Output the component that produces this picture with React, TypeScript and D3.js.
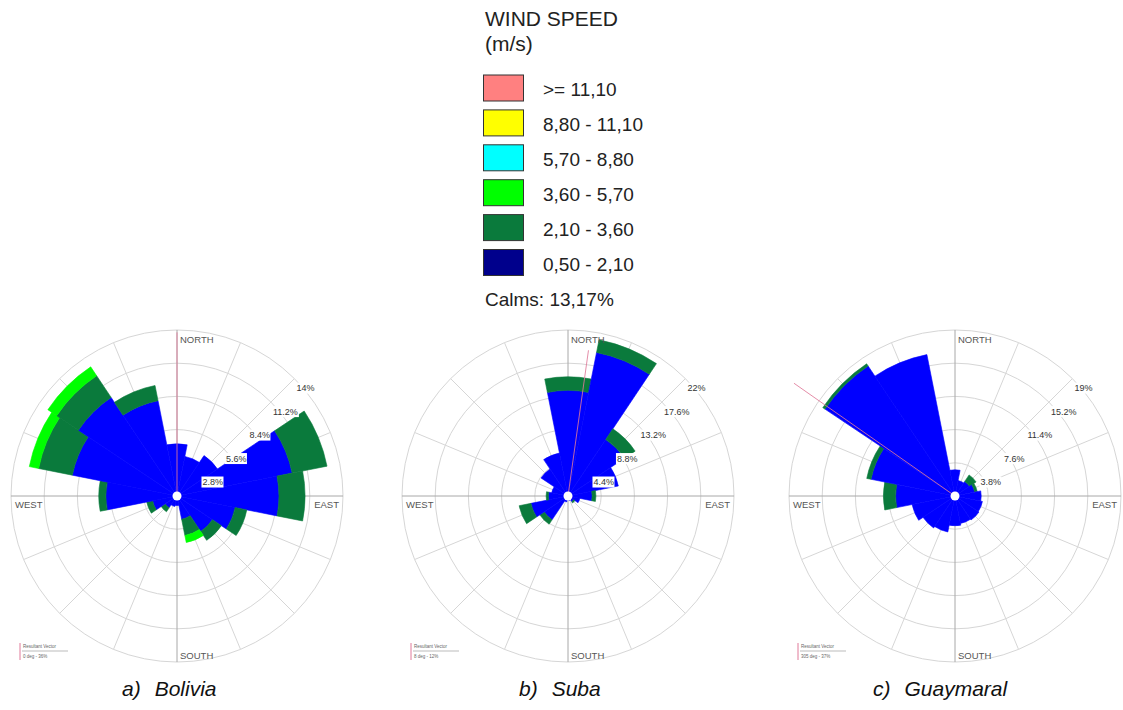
import React from "react";
import * as d3 from "d3";

// Sixteen compass sectors, clockwise from north
const DIRECTIONS = ["N", "NNE", "NE", "ENE", "E", "ESE", "SE", "SSE", "S", "SSW", "SW", "WSW", "W", "WNW", "NW", "NNW"];

// Wind speed classes (m/s) as listed in the legend, top to bottom
const SPEED_CLASSES = [">= 11,10", "8,80 - 11,10", "5,70 - 8,80", "3,60 - 5,70", "2,10 - 3,60", "0,50 - 2,10"];
const LEGEND_COLORS = ["#ff8080", "#ffff00", "#00ffff", "#00ff00", "#0a7a3c", "#00008c"];
// Bar colours, innermost (slowest) class first
const BAR_COLORS = ["#0000ff", "#0a7a3c", "#00ff00"];
const CALMS = "Calms: 13,17%";

// Frequencies (%) per direction for 0.50-2.10, 2.10-3.60 and 3.60-5.70 m/s
const boliviaLow = [4.4, 3.4, 4.1, 9.9, 8.6, 5.0, 3.6, 2.0, 0.8, 0.9, 1.2, 2.1, 6.0, 9.0, 10.0, 8.2];
const boliviaMid = [0, 0, 0, 3.0, 2.2, 1.0, 0.9, 1.4, 0, 0, 0.4, 0.5, 0.6, 2.9, 2.2, 1.3];
const boliviaHigh = [0, 0, 0, 0, 0, 0, 0, 0.6, 0, 0, 0, 0, 0, 0.8, 0.9, 0];
const boliviaTicks = [2.8, 5.6, 8.4, 11.2, 14];

const subaLow = [14.0, 19.4, 9.0, 6.8, 3.2, 1.6, 0.9, 0.6, 0.5, 0.8, 3.8, 5.0, 2.6, 2.2, 4.3, 5.8];
const subaMid = [1.8, 1.7, 1.7, 0, 0.5, 0, 0.2, 0, 0, 0, 0.7, 1.6, 0.3, 0, 0, 0];
const subaHigh = [0, 0, 0, 0, 0, 0, 0, 0, 0, 0, 0, 0, 0, 0, 0, 0];
const subaTicks = [4.4, 8.8, 13.2, 17.6, 22];

const guaymaralLow = [3.0, 1.8, 2.0, 2.3, 3.0, 3.2, 3.3, 3.2, 3.4, 4.2, 4.4, 5.0, 6.8, 9.8, 17.9, 16.5];
const guaymaralMid = [0, 0, 0.9, 0.3, 0, 0, 0, 0, 0, 0, 0, 0, 1.4, 0.5, 0.3, 0];
const guaymaralHigh = [0, 0, 0, 0, 0, 0, 0, 0, 0, 0, 0, 0, 0, 0, 0, 0];
const guaymaralTicks = [3.8, 7.6, 11.4, 15.2, 19];

// Resultant vector: direction (deg) and line length in % of the rose scale
const resultantBearings = [0, 8, 305];
const resultantLengths = [13.8, 19.5, 22.5];
const resultantTexts = ["0 deg - 36%", "8 deg - 12%", "305 deg - 37%"];

const CAPTION_LETTERS = ["a)", "b)", "c)"];
const CAPTION_NAMES = ["Bolivia", "Suba", "Guaymaral"];

const FONT = "'Liberation Sans', Arial, sans-serif";
const toRad = (deg: number) => (deg * Math.PI) / 180;

type RoseProps = {
  cx: number;
  cy: number;
  R: number;
  series: number[][];
  ticks: number[];
  bearing: number;
  length: number;
  vectorText: string;
  letter: string;
  name: string;
  captionX: number;
};

function Rose({ cx, cy, R, series, ticks, bearing, length, vectorText, letter, name, captionX }: RoseProps) {
  const maxTick = ticks[ticks.length - 1];
  const r = d3.scaleLinear().domain([0, maxTick]).range([0, R]);
  const arc = d3.arc<any>();
  const half = 360 / DIRECTIONS.length / 2;

  const wedges: { d: string; fill: string; key: string }[] = [];
  DIRECTIONS.forEach((dir, i) => {
    const b = i * (360 / DIRECTIONS.length);
    let acc = 0;
    series.forEach((vals, k) => {
      const v = vals[i];
      if (v <= 0) return;
      const d = arc({
        innerRadius: r(acc),
        outerRadius: r(acc + v),
        startAngle: toRad(b - half),
        endAngle: toRad(b + half),
      }) as string;
      wedges.push({ d, fill: BAR_COLORS[k], key: `${dir}-${k}` });
      acc += v;
    });
  });

  const spokes = DIRECTIONS.map((_, i) => i * (360 / DIRECTIONS.length)).filter((b) => b % 90 !== 0);
  const rv = r(length);

  return (
    <g>
      {/* grid */}
      {ticks.map((t) => (
        <circle key={t} cx={cx} cy={cy} r={r(t)} fill="none" stroke="#d6d6d6" strokeWidth={1} />
      ))}
      {spokes.map((b) => (
        <line
          key={b}
          x1={cx}
          y1={cy}
          x2={cx + R * Math.sin(toRad(b))}
          y2={cy - R * Math.cos(toRad(b))}
          stroke="#d6d6d6"
          strokeWidth={1}
        />
      ))}
      <line x1={cx - R} y1={cy} x2={cx + R} y2={cy} stroke="#a8a8a8" strokeWidth={1} />
      <line x1={cx} y1={cy - R} x2={cx} y2={cy + R} stroke="#a8a8a8" strokeWidth={1} />

      {/* stacked frequency bars */}
      {wedges.map((w) => (
        <path
          key={w.key}
          d={w.d}
          transform={`translate(${cx},${cy})`}
          fill={w.fill}
          stroke={w.fill}
          strokeWidth={0.6}
          strokeLinejoin="miter"
        />
      ))}

      {/* resultant vector */}
      <line
        x1={cx}
        y1={cy}
        x2={cx + rv * Math.sin(toRad(bearing))}
        y2={cy - rv * Math.cos(toRad(bearing))}
        stroke="#e07a9a"
        strokeWidth={1}
        opacity={0.85}
      />
      <circle cx={cx} cy={cy} r={4.5} fill="#fff" />

      {/* ring labels */}
      {ticks.map((t) => {
        const rr = r(t);
        const px = cx + rr * Math.SQRT1_2;
        const py = cy - rr * Math.SQRT1_2;
        const label = `${t}%`;
        const w = label.length * 5 + 2;
        return (
          <g key={`l${t}`}>
            <rect x={px + 1} y={py + 4} width={w} height={11} fill="#fff" />
            <text x={px + 2} y={py + 12.5} fontSize={9} fill="#333" fontFamily={FONT}>
              {label}
            </text>
          </g>
        );
      })}

      {/* compass labels */}
      <text x={cx + 3} y={cy - R + 13} fontSize={9.5} fill="#555" fontFamily={FONT}>NORTH</text>
      <text x={cx + 3} y={cy + R - 3} fontSize={9.5} fill="#555" fontFamily={FONT}>SOUTH</text>
      <text x={cx - R + 4} y={cy + 12} fontSize={9.5} fill="#555" fontFamily={FONT}>WEST</text>
      <text x={cx + R - 4} y={cy + 12} fontSize={9.5} fill="#555" fontFamily={FONT} textAnchor="end">EAST</text>

      {/* resultant vector key */}
      <line x1={cx - 157} y1={cy + 147} x2={cx - 157} y2={cy + 164} stroke="#e07a9a" strokeWidth={1} />
      <text x={cx - 154} y={cy + 152} fontSize={4.5} fill="#666" fontFamily={FONT}>Resultant Vector</text>
      <line x1={cx - 155} y1={cy + 155} x2={cx - 109} y2={cy + 155} stroke="#aaa" strokeWidth={0.8} />
      <text x={cx - 154} y={cy + 162} fontSize={4.5} fill="#666" fontFamily={FONT}>{vectorText}</text>

      {/* caption */}
      <text x={captionX} y={696} fontSize={21} fontStyle="italic" fill="#111" fontFamily={FONT}>
        {letter}
        <tspan dx={14}>{name}</tspan>
      </text>
    </g>
  );
}

function Legend() {
  const x0 = 483.5;
  const y0 = 75;
  const step = 34.9;
  return (
    <g fontFamily={FONT} fill="#222">
      <text x={485} y={26} fontSize={21}>WIND SPEED</text>
      <text x={485} y={51} fontSize={21}>(m/s)</text>
      {SPEED_CLASSES.map((label, i) => (
        <g key={label}>
          <rect
            x={x0}
            y={y0 + i * step}
            width={40}
            height={26}
            fill={LEGEND_COLORS[i]}
            stroke="#333"
            strokeWidth={1}
          />
          <text x={543} y={y0 + i * step + 21} fontSize={19}>{label}</text>
        </g>
      ))}
      <text x={485} y={306} fontSize={19}>{CALMS}</text>
    </g>
  );
}

export default function App() {
  const roses = [
    { cx: 177, cy: 496, series: [boliviaLow, boliviaMid, boliviaHigh], ticks: boliviaTicks, captionX: 122 },
    { cx: 568, cy: 496, series: [subaLow, subaMid, subaHigh], ticks: subaTicks, captionX: 519 },
    { cx: 955, cy: 496, series: [guaymaralLow, guaymaralMid, guaymaralHigh], ticks: guaymaralTicks, captionX: 873 },
  ];
  return (
    <svg
      width={1123}
      height={710}
      viewBox="0 0 1123 710"
      style={{ position: "absolute", left: 0, top: 0, background: "#fff" }}
    >
      <rect x={0} y={0} width={1123} height={710} fill="#fff" />
      <Legend />
      {roses.map((rs, i) => (
        <Rose
          key={i}
          cx={rs.cx}
          cy={rs.cy}
          R={166}
          series={rs.series}
          ticks={rs.ticks}
          bearing={resultantBearings[i]}
          length={resultantLengths[i]}
          vectorText={resultantTexts[i]}
          letter={CAPTION_LETTERS[i]}
          name={CAPTION_NAMES[i]}
          captionX={rs.captionX}
        />
      ))}
    </svg>
  );
}
